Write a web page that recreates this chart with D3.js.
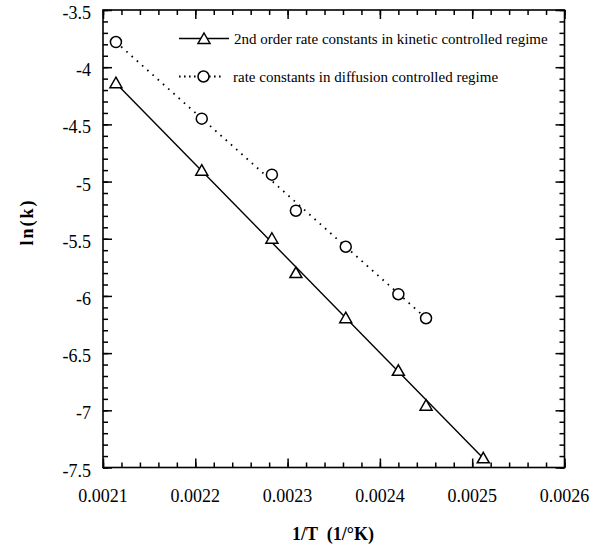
<!DOCTYPE html>
<html>
<head>
<meta charset="utf-8">
<script src="https://cdn.jsdelivr.net/npm/d3@7"></script>
<style>
  html, body { margin: 0; padding: 0; background: #fff; }
  svg { display: block; }
  text { font-family: "Liberation Serif", "Times New Roman", serif; fill: #000; }
</style>
</head>
<body>
<svg id="chart" width="600" height="554"></svg>
<script>
// ---- Data ----
const kineticX = [0.002114, 0.002207, 0.002283, 0.002309, 0.002363, 0.002420, 0.002450, 0.002512];
const kineticY = [-4.14, -4.905, -5.50, -5.80, -6.195, -6.655, -6.96, -7.42];
const diffusionX = [0.002114, 0.002207, 0.002283, 0.002309, 0.002363, 0.002420, 0.002450];
const diffusionY = [-3.78, -4.45, -4.94, -5.255, -5.57, -5.985, -6.195];
const xTicks = [0.0021, 0.0022, 0.0023, 0.0024, 0.0025, 0.0026];
const yTicks = [-3.5, -4, -4.5, -5, -5.5, -6, -6.5, -7, -7.5];
const seriesNames = ["2nd order rate constants in kinetic controlled regime",
                     "rate constants in diffusion controlled regime"];
const xTitle = "1/T  (1/°K)";
const yTitle = "ln(k)";

// ---- Layout ----
const L = 103, R = 564.5, T = 10, B = 467.5;
const svg = d3.select("#chart");
const x = d3.scaleLinear().domain([0.0021, 0.0026]).range([L, R]);
const y = d3.scaleLinear().domain([-7.5, -3.5]).range([B, T]);

const minorX = d3.range(0, 26).map(i => 0.0021 + i * 0.00002);
const minorY = d3.range(0, 41).map(i => -7.5 + i * 0.1);

const major = 9, minor = 5;
function ticks(axisFn, scale, vals, size, tr) {
  svg.append("g").attr("transform", tr)
    .call(axisFn(scale).tickValues(vals).tickSize(-size).tickFormat(""))
    .call(g => g.select(".domain").remove());
}
ticks(d3.axisBottom, x, minorX, minor, `translate(0,${B})`);
ticks(d3.axisBottom, x, xTicks, major, `translate(0,${B})`);
ticks(d3.axisTop, x, minorX, minor, `translate(0,${T})`);
ticks(d3.axisTop, x, xTicks, major, `translate(0,${T})`);
ticks(d3.axisLeft, y, minorY, minor, `translate(${L},0)`);
ticks(d3.axisLeft, y, yTicks, major, `translate(${L},0)`);
ticks(d3.axisRight, y, minorY, minor, `translate(${R},0)`);
ticks(d3.axisRight, y, yTicks, major, `translate(${R},0)`);
svg.selectAll(".tick line").attr("stroke", "#000").attr("stroke-width", 1.5);

// frame
svg.append("rect").attr("x", L).attr("y", T).attr("width", R - L).attr("height", B - T)
  .attr("fill", "none").attr("stroke", "#000").attr("stroke-width", 1.6);

// tick labels
svg.append("g").selectAll("text").data(xTicks).join("text")
  .attr("x", d => x(d)).attr("y", 502)
  .attr("text-anchor", "middle").attr("font-size", 18)
  .text(d => d3.format(".4f")(d));
svg.append("g").selectAll("text").data(yTicks).join("text")
  .attr("x", 91).attr("y", d => y(d) + 9)
  .attr("text-anchor", "end").attr("font-size", 18)
  .text(d => String(d));

// axis titles
svg.append("text").attr("x", 333).attr("y", 540)
  .attr("text-anchor", "middle").attr("font-size", 18).attr("font-weight", "bold")
  .style("white-space", "pre").text(xTitle);
svg.append("text").attr("transform", "translate(33,222) rotate(-90)")
  .attr("text-anchor", "middle").attr("font-size", 18).attr("font-weight", "bold")
  .attr("letter-spacing", 2).text(yTitle);

// lines (straight trend from first to last point)
const kin = kineticX.map((d, i) => [d, kineticY[i]]);
const dif = diffusionX.map((d, i) => [d, diffusionY[i]]);
const line = d3.line().x(d => x(d[0])).y(d => y(d[1]));
svg.append("path").datum([kin[0], kin[kin.length - 1]])
  .attr("d", line).attr("fill", "none").attr("stroke", "#000").attr("stroke-width", 1.4);
svg.append("path").datum([dif[0], dif[dif.length - 1]])
  .attr("d", line).attr("fill", "none").attr("stroke", "#000").attr("stroke-width", 1.8)
  .attr("stroke-dasharray", "1.6,5.4");

// markers
const tri = "M0,-6L6,4.5L-6,4.5Z";
svg.append("g").selectAll("path").data(kin).join("path")
  .attr("transform", d => `translate(${x(d[0])},${y(d[1])})`)
  .attr("d", tri).attr("fill", "#fff").attr("stroke", "#000").attr("stroke-width", 1.5);
svg.append("g").selectAll("circle").data(dif).join("circle")
  .attr("cx", d => x(d[0])).attr("cy", d => y(d[1])).attr("r", 5.5)
  .attr("fill", "#fff").attr("stroke", "#000").attr("stroke-width", 1.5);

// legend
const lg = svg.append("g");
lg.append("line").attr("x1", 179).attr("x2", 229).attr("y1", 38.5).attr("y2", 38.5)
  .attr("stroke", "#000").attr("stroke-width", 1.4);
lg.append("path").attr("transform", "translate(204,39)").attr("d", tri)
  .attr("fill", "#fff").attr("stroke", "#000").attr("stroke-width", 1.5);
lg.append("text").attr("x", 234).attr("y", 43.5).attr("font-size", 15).text(seriesNames[0]);
lg.append("line").attr("x1", 179).attr("x2", 224).attr("y1", 76.5).attr("y2", 76.5)
  .attr("stroke", "#000").attr("stroke-width", 1.8).attr("stroke-dasharray", "1.6,3.4");
lg.append("circle").attr("cx", 203.5).attr("cy", 76.5).attr("r", 5.5)
  .attr("fill", "#fff").attr("stroke", "#000").attr("stroke-width", 1.5);
lg.append("text").attr("x", 233).attr("y", 81.5).attr("font-size", 15).text(seriesNames[1]);
</script>
</body>
</html>
